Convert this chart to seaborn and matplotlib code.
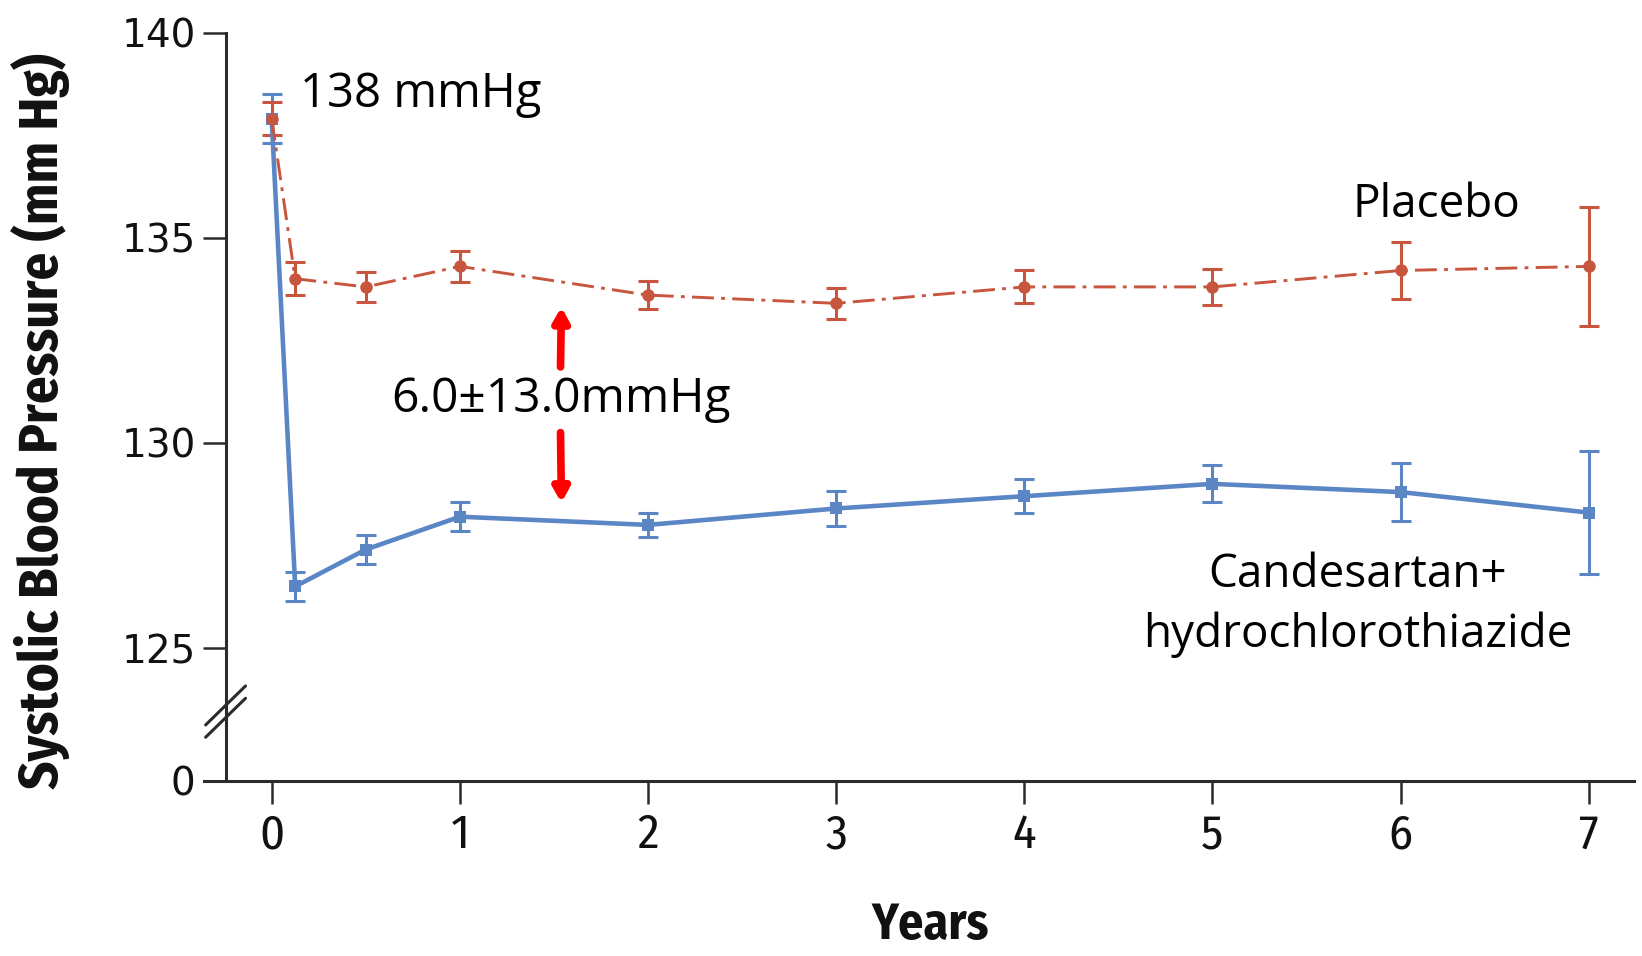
import matplotlib
matplotlib.use("Agg")
import matplotlib.pyplot as plt
from matplotlib import font_manager
import pandas as pd
import seaborn as sns

# values
years = [0, 0.125, 0.5, 1, 2, 3, 4, 5, 6, 7]
candesartan = [137.9, 126.5, 127.4, 128.2, 128.0, 128.4, 128.7, 129.0, 128.8, 128.3]
candesartan_err = [0.6, 0.35, 0.35, 0.35, 0.3, 0.42, 0.42, 0.45, 0.7, 1.5]
placebo = [137.9, 134.0, 133.8, 134.3, 133.6, 133.4, 133.8, 133.8, 134.2, 134.3]
placebo_err = [0.4, 0.4, 0.37, 0.38, 0.35, 0.38, 0.4, 0.43, 0.7, 1.45]

x_ticks = [0, 1, 2, 3, 4, 5, 6, 7]
y_ticks = [125, 130, 135, 140]
ZERO_POS = 121.76  # where "0" sits below the axis break

BLUE = "#5b86c6"
RED = "#c8553d"
AXIS = "#2b2b2b"

sns.set_style("ticks")
plt.rcParams["font.family"] = ["DejaVu Sans"]

available = {f.name for f in font_manager.fontManager.ttflist}


def pick(candidates, default):
    for name in candidates:
        if name in available:
            return name
    return default


COND = pick(["Fira Sans Condensed", "Roboto Condensed", "PT Sans Narrow",
             "Archivo Narrow", "Liberation Sans Narrow"], "DejaVu Sans")
LABEL = pick(["Open Sans", "Noto Sans"], "DejaVu Sans")

df = pd.DataFrame({
    "Years": years * 2,
    "SBP": candesartan + placebo,
    "err": candesartan_err + placebo_err,
    "group": ["Candesartan"] * len(years) + ["Placebo"] * len(years),
})

fig = plt.figure(figsize=(16.42, 9.56), dpi=100)
ax = fig.add_axes([0.1242, 0.1831, 0.8709, 0.7829])

cand = df[df["group"] == "Candesartan"]
plac = df[df["group"] == "Placebo"]

ax.errorbar(cand["Years"], cand["SBP"], yerr=cand["err"], fmt="none",
            ecolor=BLUE, elinewidth=2.2, capsize=7.5, capthick=2.2, zorder=2)
ax.errorbar(plac["Years"], plac["SBP"], yerr=plac["err"], fmt="none",
            ecolor=RED, elinewidth=2.2, capsize=7.5, capthick=2.2, zorder=2)

sns.lineplot(data=cand, x="Years", y="SBP", ax=ax, color=BLUE, linewidth=3.3,
             marker="s", markersize=9, markeredgewidth=0, errorbar=None,
             sort=False, zorder=3)
sns.lineplot(data=plac, x="Years", y="SBP", ax=ax, color=RED, linewidth=2.1,
             linestyle=(0, (7.5, 2.5, 1.3, 2.5)), marker="o", markersize=9,
             markeredgewidth=0, errorbar=None, sort=False, zorder=3)

ax.set_xlim(-0.36, 7.24)
ax.set_ylim(ZERO_POS, 140)

for side in ["top", "right"]:
    ax.spines[side].set_visible(False)
for side in ["left", "bottom"]:
    ax.spines[side].set_linewidth(2.2)
    ax.spines[side].set_color(AXIS)
ax.spines["left"].set_position(("data", -0.245))

ax.set_xticks(x_ticks)
ax.set_xticklabels([str(t) for t in x_ticks], family=[COND, "DejaVu Sans"],
                   fontsize=35 if COND != "DejaVu Sans" else 32)
ax.set_yticks([ZERO_POS] + y_ticks)
ax.set_yticklabels(["0"] + [str(t) for t in y_ticks], fontsize=28)
ax.tick_params(axis="both", direction="out", length=16.5, width=1.8, color=AXIS,
               labelcolor="#111111")
ax.tick_params(axis="x", pad=6)
ax.tick_params(axis="y", pad=5)

ylab = ax.set_ylabel("Systolic Blood Pressure (mm Hg)", fontsize=36, fontweight="bold",
                     family=[COND, "DejaVu Sans"], color="#111111")
xlab = ax.set_xlabel("Years", fontsize=36, fontweight="bold",
                     family=[COND, "DejaVu Sans"], color="#111111")

# size the axis titles to the reference's extent
fig.canvas.draw()
renderer = fig.canvas.get_renderer()
h = ylab.get_window_extent(renderer).height
ylab.set_fontsize(36 * 736 / h)
w = xlab.get_window_extent(renderer).width
xlab.set_fontsize(min(36, 36 * 118 / w))

ax.yaxis.set_label_coords(-0.0937, 0.481)
ax.xaxis.set_label_coords(0.508, -0.160)

# axis break marks on the y spine
bx, dx, dy = -0.245, 0.106, 0.475
for yc in [123.6, 123.3]:
    ax.plot([bx - dx, bx + dx], [yc - dy, yc + dy], color=AXIS, lw=2.2,
            clip_on=False, zorder=5)

txt = dict(family=[LABEL, "DejaVu Sans"], color="black")
ax.text(0.149, 138.19, "138 mmHg", fontsize=34, ha="left", va="baseline", **txt)
ax.text(1.535, 130.74, "6.0\u00b113.0mmHg", fontsize=34.5, ha="center", va="baseline", **txt)
ax.text(6.19, 135.51, "Placebo", fontsize=33, ha="center", va="baseline", **txt)
ax.text(5.77, 126.49, "Candesartan+", fontsize=33, ha="center", va="baseline", **txt)
ax.text(5.77, 125.03, "hydrochlorothiazide", fontsize=33, ha="center", va="baseline", **txt)

arrow = dict(arrowstyle="-|>,head_width=0.45,head_length=0.8", color="#ff0000",
             lw=5.5, shrinkA=0, shrinkB=0)
ax.annotate("", xy=(1.54, 133.31), xytext=(1.535, 131.85), arrowprops=arrow)
ax.annotate("", xy=(1.54, 128.54), xytext=(1.535, 130.25), arrowprops=arrow)

fig.savefig("out.png", dpi=100)
